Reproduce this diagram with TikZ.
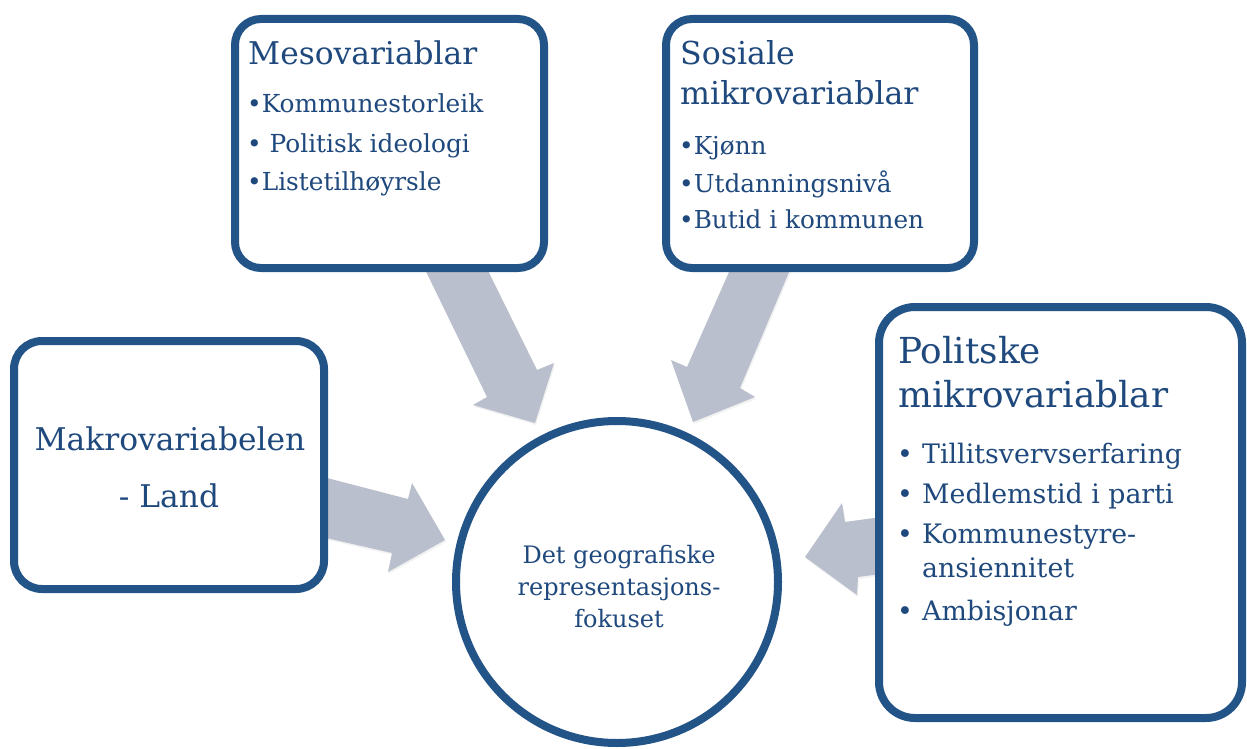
\documentclass[tikz,border=0pt]{standalone}
\usepackage{fontspec}
\setmainfont{DejaVu Serif}
\usetikzlibrary{shadows}
\definecolor{bordblue}{RGB}{35,84,135}
\definecolor{txtblue}{RGB}{31,73,125}
\definecolor{arrgray}{RGB}{185,191,204}
\tikzset{
  box/.style={draw=bordblue, line width=8pt, fill=white, inner sep=0pt,
    drop shadow={opacity=0.12, shadow xshift=1pt, shadow yshift=-3pt}},
  blockarrow/.style={fill=arrgray, draw=none,
    drop shadow={opacity=0.10, shadow xshift=1pt, shadow yshift=-2pt}},
  txt/.style={text=txtblue, inner sep=0pt, anchor=base west},
  ctxt/.style={text=txtblue, inner sep=0pt, anchor=base},
}
\newcommand{\fs}[1]{\fontsize{#1pt}{#1pt}\selectfont}
\begin{document}
\begin{tikzpicture}[x=1pt,y=-1pt]
\useasboundingbox (0,0) rectangle (1247,749);
% block arrows
\fill[blockarrow] (401,220)--(487,397)--(473,405)--(535,423)--(554,363)--(537,370)--(463,220)--cycle;
\fill[blockarrow] (752,220)--(687,367)--(671,360)--(693,422)--(755,397)--(740,388)--(811,220)--cycle;
\fill[blockarrow] (300,471)--(408,499)--(412,483)--(445,540)--(388,572)--(392,553)--(300,532)--cycle;
\fill[blockarrow] (910,513)--(845,522)--(842,503)--(805,557)--(857,595)--(858,577)--(910,570)--cycle;
% boxes
\node[box, rounded corners=26pt, minimum width=309pt, minimum height=249pt] (meso) at (389.5,143.5) {};
\node[box, rounded corners=26pt, minimum width=308pt, minimum height=249pt] (sos) at (820,143.5) {};
\node[box, rounded corners=36pt, minimum width=363pt, minimum height=411pt] (pol) at (1060.5,512.5) {};
\node[box, rounded corners=28pt, minimum width=310pt, minimum height=248pt] (makro) at (169,465) {};
\node[box, circle, minimum size=322pt] (fokus) at (617,582) {};
% meso text
\node[txt, font=\fs{31.3}] (m0) at (248,65) {Mesovariablar};
\node[txt, font=\fs{24.8}] (m1) at (247,113) {•Kommunestorleik};
\node[txt, font=\fs{24.8}] (m2) at (247,152) {• Politisk ideologi};
\node[txt, font=\fs{24.8}] (m3) at (247,190) {•Listetilhøyrsle};
% sosiale text
\node[txt, font=\fs{31.6}] (s0) at (680,65) {Sosiale};
\node[txt, font=\fs{31.6}] (s1) at (680,105) {mikrovariablar};
\node[txt, font=\fs{24.7}] (s2) at (679,154) {•Kjønn};
\node[txt, font=\fs{24.7}] (s3) at (679,192) {•Utdanningsnivå};
\node[txt, font=\fs{24.7}] (s4) at (679,228) {•Butid i kommunen};
% politiske text
\node[txt, font=\fs{35.8}] (p0) at (898,363) {Politske};
\node[txt, font=\fs{35.8}] (p1) at (898,407) {mikrovariablar};
\node[txt, font=\fs{26.8}] (pb1) at (897,463) {•};
\node[txt, font=\fs{26.8}] (p2) at (922,463) {Tillitsvervserfaring};
\node[txt, font=\fs{26.8}] (pb2) at (897,503) {•};
\node[txt, font=\fs{26.8}] (p3) at (922,503) {Medlemstid i parti};
\node[txt, font=\fs{26.8}] (pb3) at (897,543) {•};
\node[txt, font=\fs{26.8}] (p4) at (922,543) {Kommunestyre-};
\node[txt, font=\fs{26.8}] (p5) at (922,577) {ansiennitet};
\node[txt, font=\fs{26.8}] (pb4) at (897,620) {•};
\node[txt, font=\fs{26.8}] (p6) at (922,620) {Ambisjonar};
% makro text
\node[ctxt, font=\fs{31.3}] (k1) at (170,450) {Makrovariabelen};
\node[ctxt, font=\fs{31.3}] (k2) at (169,507) {- Land};
% circle text
\node[ctxt, font=\fs{24}] (c1) at (619,563) {Det geografiske};
\node[ctxt, font=\fs{24}] (c2) at (619,595) {representasjons-};
\node[ctxt, font=\fs{24}] (c3) at (619,627) {fokuset};
\end{tikzpicture}
\end{document}
